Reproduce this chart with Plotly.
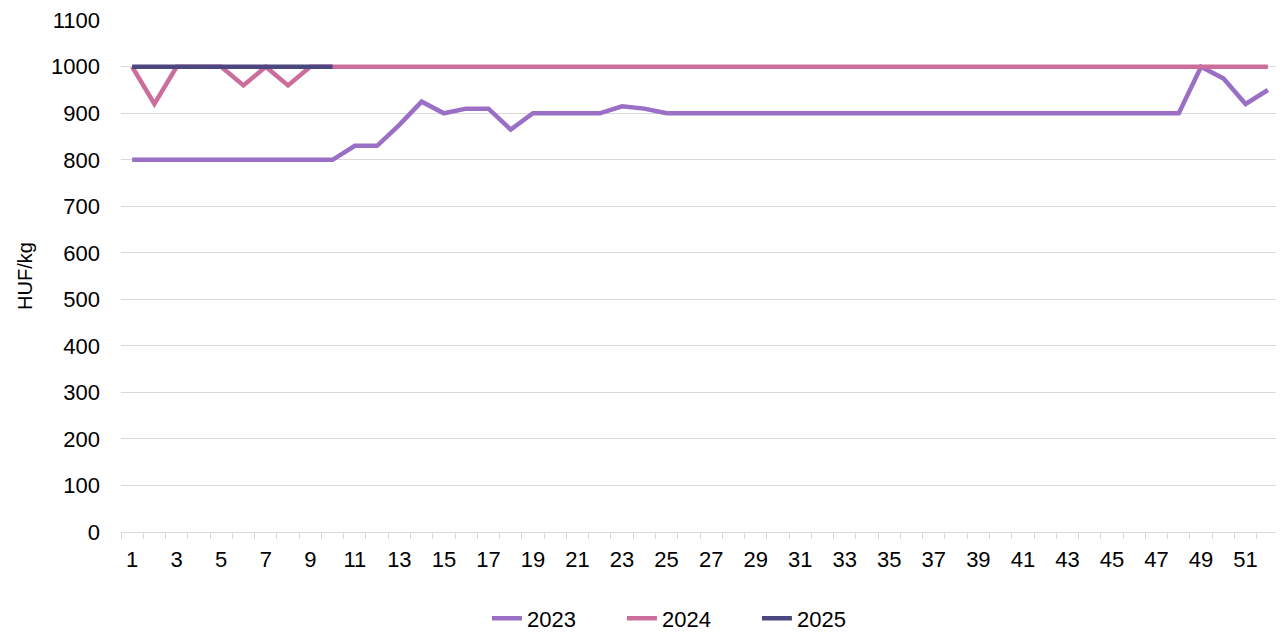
import plotly.graph_objects as go

weeks = list(range(1, 53))
y2023 = [800]*10 + [830, 830, 875, 925, 900, 910, 910, 865, 900, 900, 900, 900, 915, 910] + [900]*24 + [1000, 975, 920, 950]
y2024 = [1000, 920, 1000, 1000, 1000, 960, 1000, 960, 1000] + [1000]*43
y2025 = [1000]*10
weeks2025 = list(range(1, 11))
ytick_vals = list(range(0, 1101, 100))

series = [("2023", weeks, y2023, "#9A6FC5"),
          ("2024", weeks, y2024, "#CC6E9C"),
          ("2025", weeks2025, y2025, "#4D4780")]

fig = go.Figure()
for name, x, y, c in series:
    fig.add_trace(go.Scatter(x=x, y=y, name=name, mode="lines",
                             line=dict(color=c, width=4.5)))

fig.update_layout(
    width=1276, height=624,
    margin=dict(l=113, r=5, t=12, b=100, autoexpand=False),
    plot_bgcolor="white", paper_bgcolor="white",
    font=dict(family="Liberation Sans, Arial", size=22, color="#000"),
    legend=dict(orientation="h", x=0.316, xanchor="left", y=-0.128, yanchor="top",
                font=dict(size=22), entrywidth=90, entrywidthmode="pixels"),
    showlegend=True,
)
fig.update_xaxes(range=[0.5, 52.5], tickmode="array", tickvals=list(range(1, 52, 2)),
                 ticks="", showgrid=False, showline=True, linecolor="#d9d9d9", linewidth=1,
                 zeroline=False, automargin=False, ticklabelstandoff=8,
                 ticklabeloverflow="allow",
                 minor=dict(tick0=0.5, dtick=1, ticks="outside", ticklen=6, tickcolor="#d9d9d9", showgrid=False),
                 tickfont=dict(size=22))
fig.update_yaxes(range=[0, 1100.5], tickmode="array", tickvals=ytick_vals,
                 showgrid=True, gridcolor="#d9d9d9", gridwidth=1,
                 zeroline=False, ticks="", ticklabelstandoff=20, automargin=False,
                 ticklabeloverflow="allow",
                 title=dict(text="HUF/kg", standoff=13, font=dict(size=20)),
                 tickfont=dict(size=22))

fig.write_html("out.html")
